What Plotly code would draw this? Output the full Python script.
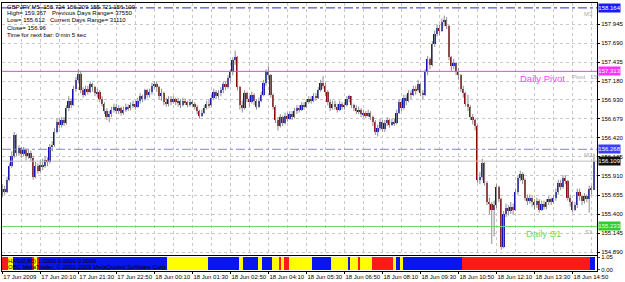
import plotly.graph_objects as go

# ---------------- data ----------------
first_open = 155.66
closes = [155.74,155.70,155.86,156.05,156.18,156.46,156.22,156.28,156.20,156.26,
          156.18,156.22,156.15,155.90,156.05,155.98,156.06,156.04,156.12,156.10,
          156.30,156.32,156.50,156.64,156.60,156.66,156.62,156.82,156.92,156.86,
          157.08,157.20,157.28,157.06,157.00,157.08,157.04,157.14,157.10,157.02,
          157.04,156.94,156.88,156.78,156.70,156.74,156.80,156.84,156.78,156.82,
          156.76,156.80,156.84,156.82,156.86,156.88,156.84,156.92,156.98,156.94,
          157.06,157.00,157.04,157.12,157.14,157.10,156.98,157.02,156.90,156.88,
          156.94,156.90,156.94,156.90,156.92,156.86,156.92,156.90,156.86,156.90,
          156.88,156.84,156.78,156.72,156.76,156.82,156.88,156.86,156.96,157.04,
          156.98,157.02,157.06,157.14,157.10,157.22,157.30,157.46,157.50,157.10,
          156.86,156.82,157.02,156.94,156.90,157.00,156.92,156.84,156.92,157.00,
          157.16,157.30,157.26,157.00,156.84,156.66,156.58,156.70,156.62,156.72,
          156.68,156.74,156.70,156.78,156.82,156.80,156.86,156.84,156.90,156.94,
          156.92,156.98,156.96,157.06,157.16,157.12,157.04,156.90,156.82,156.88,
          156.84,156.80,156.88,156.84,156.86,156.94,156.98,156.86,156.82,156.78,
          156.80,156.74,156.76,156.72,156.76,156.70,156.64,156.50,156.56,156.64,
          156.54,156.62,156.66,156.60,156.64,156.62,156.76,156.90,156.82,156.96,
          156.92,157.02,157.00,157.08,157.06,157.14,157.02,157.00,157.30,157.48,
          157.40,157.68,157.82,157.90,157.86,157.98,158.00,157.92,157.50,157.38,
          157.42,157.30,157.26,157.08,157.02,156.88,156.84,156.70,156.66,156.58,
          155.86,155.90,156.08,155.82,155.56,155.54,155.46,155.52,155.76,155.60,
          154.96,155.40,155.48,155.44,155.50,155.46,155.70,155.88,155.94,155.86,
          155.62,155.58,155.62,155.56,155.52,155.58,155.46,155.54,155.50,155.56,
          155.60,155.56,155.62,155.70,155.82,155.76,155.88,155.84,155.62,155.56,
          155.46,155.52,155.70,155.64,155.58,155.64,155.60,155.74,155.724,156.109]
highs = [155.80,155.78,155.90,156.08,156.24,156.50,156.47,156.32,156.30,156.30,
         156.28,156.27,156.25,156.18,156.10,156.08,156.12,156.14,156.18,156.16,
         156.34,156.38,156.55,156.68,156.68,156.70,156.70,156.86,156.98,156.95,
         157.12,157.24,157.34,157.32,157.10,157.12,157.12,157.18,157.16,157.12,
         157.08,157.06,156.98,156.90,156.82,156.78,156.84,156.88,156.88,156.86,
         156.84,156.84,156.88,156.87,156.90,156.92,156.92,156.96,157.02,157.00,
         157.08,157.08,157.08,157.16,157.18,157.18,157.12,157.08,157.04,156.96,
         156.98,156.98,156.98,156.96,156.96,156.94,156.96,156.95,156.92,156.94,
         156.93,156.90,156.86,156.80,156.80,156.86,156.92,156.94,157.00,157.08,
         157.06,157.06,157.10,157.18,157.18,157.26,157.34,157.50,157.59,157.52,
         157.12,156.92,157.06,157.04,156.98,157.04,157.02,156.94,156.96,157.04,
         157.20,157.34,157.38,157.28,157.02,156.86,156.70,156.74,156.72,156.76,
         156.76,156.78,156.78,156.82,156.86,156.86,156.90,156.90,156.94,156.98,
         156.98,157.02,157.02,157.10,157.20,157.25,157.16,157.06,156.94,156.92,
         156.92,156.88,156.92,156.90,156.90,156.98,157.00,156.98,156.88,156.86,
         156.84,156.82,156.80,156.78,156.80,156.78,156.72,156.66,156.60,156.68,
         156.66,156.66,156.70,156.68,156.68,156.68,156.80,156.94,156.92,157.00,
         157.00,157.06,157.06,157.12,157.12,157.20,157.16,157.06,157.34,157.52,
         157.50,157.72,157.86,157.94,157.94,158.02,158.06,158.04,157.94,157.52,
         157.48,157.44,157.36,157.28,157.12,157.04,157.00,156.86,156.74,156.68,
         156.60,155.96,156.14,156.10,155.84,155.62,155.56,155.58,155.80,155.78,
         155.62,155.44,155.54,155.52,155.56,155.54,155.74,155.92,155.98,155.96,
         155.88,155.66,155.66,155.64,155.60,155.62,155.60,155.58,155.58,155.60,
         155.64,155.62,155.66,155.74,155.86,155.86,155.92,155.92,155.86,155.66,
         155.58,155.56,155.74,155.74,155.66,155.68,155.66,155.78,155.78,156.209]
lows = [155.62,155.66,155.68,155.84,156.02,156.15,156.18,156.18,156.15,156.17,
        156.12,156.14,156.10,155.86,155.88,155.94,155.96,155.99,156.02,156.04,
        156.08,156.24,156.30,156.48,156.55,156.56,156.58,156.60,156.78,156.82,
        156.85,157.04,157.16,157.02,156.96,156.98,157.00,157.02,157.04,156.98,
        156.96,156.90,156.84,156.74,156.66,156.63,156.70,156.76,156.74,156.74,
        156.72,156.73,156.77,156.78,156.79,156.82,156.80,156.82,156.88,156.90,
        156.92,156.96,156.96,157.00,157.08,157.04,156.94,156.92,156.86,156.84,
        156.84,156.86,156.88,156.86,156.84,156.82,156.84,156.86,156.83,156.84,
        156.85,156.80,156.74,156.68,156.70,156.74,156.80,156.82,156.84,156.94,
        156.94,156.95,156.98,157.02,157.06,157.08,157.18,157.26,157.40,157.06,
        156.80,156.76,156.80,156.90,156.84,156.88,156.86,156.80,156.82,156.90,
        156.98,157.12,157.20,156.96,156.80,156.62,156.52,156.56,156.58,156.60,
        156.64,156.66,156.66,156.68,156.74,156.76,156.78,156.80,156.82,156.88,
        156.88,156.90,156.92,156.94,157.04,157.08,156.98,156.86,156.78,156.80,
        156.80,156.76,156.78,156.80,156.80,156.84,156.90,156.82,156.78,156.74,
        156.74,156.70,156.70,156.68,156.70,156.66,156.58,156.46,156.44,156.52,
        156.50,156.50,156.58,156.56,156.58,156.58,156.60,156.74,156.78,156.80,
        156.86,156.90,156.94,156.98,157.00,157.04,156.98,156.94,156.98,157.26,
        157.34,157.38,157.64,157.78,157.80,157.84,157.92,157.88,157.46,157.32,
        157.34,157.26,157.20,157.04,156.96,156.84,156.78,156.66,156.60,156.52,
        155.82,155.80,155.86,155.78,155.52,155.40,155.00,155.10,155.48,155.56,
        154.92,154.94,155.36,155.38,155.40,155.40,155.44,155.66,155.84,155.80,
        155.58,155.52,155.54,155.50,155.46,155.48,155.42,155.44,155.46,155.46,
        155.52,155.52,155.54,155.58,155.66,155.72,155.74,155.80,155.58,155.50,
        155.42,155.44,155.48,155.58,155.52,155.54,155.56,155.42,155.66,155.721]

time_labels = ["17 Jun 2009", "17 Jun 20:10", "17 Jun 21:30", "17 Jun 22:50",
               "18 Jun 00:10", "18 Jun 01:30", "18 Jun 02:50", "18 Jun 04:10",
               "18 Jun 05:30", "18 Jun 06:50", "18 Jun 08:10", "18 Jun 09:30",
               "18 Jun 10:50", "18 Jun 12:10", "18 Jun 13:30", "18 Jun 14:50"]
bars_per_label = 16
bars_per_grid = 8

price_ticks = [157.945, 157.690, 157.435, 157.180, 156.930, 156.679, 156.420,
               156.165, 155.910, 155.655, 155.400, 155.145, 154.890]
price_tick_text = ["157.945", "157.690", "157.435", "157.180", "156.930", "156.679",
                   "156.420", "156.165", "155.910", "155.655", "155.400", "155.145",
                   "154.890"]

level_m3 = 158.164
level_pivot = 157.313
level_m2 = 156.268
level_close = 156.109
level_s1 = 155.233

# indicator state runs: (state, number of bars)
trend_runs = [("R", 3), ("Y", 2), ("B", 8), ("R", 1), ("Y", 1), ("R", 1), ("B", 54),
              ("Y", 17), ("B", 13), ("Y", 2), ("B", 6), ("Y", 2), ("B", 4), ("Y", 3),
              ("R", 1), ("Y", 1), ("R", 2), ("Y", 10), ("B", 8), ("Y", 7), ("B", 1),
              ("Y", 3), ("R", 1), ("Y", 5), ("R", 9), ("Y", 1), ("B", 2), ("Y", 1),
              ("B", 25), ("R", 54), ("B", 2)]

header_lines = ["GBPJPY,M5  155.724 156.209 155.721 156.109",
                "High= 159.367", "Low= 155.612", "Close= 156.96",
                "Time for next bar: 0 min 5 sec"]
range_lines = ["Previous Days Range= 37550", "Current Days Range= 31110"]

# ---------------- derived ----------------
n = len(closes)
idx = list(range(n))
opens = [first_open] + closes[:-1]
body_base = [min(o, c) for o, c in zip(opens, closes)]
body_h = [max(abs(c - o), 0.012) for o, c in zip(opens, closes)]
body_col = ["#1212b4" if c >= o else "#8a0c0c" for o, c in zip(opens, closes)]

state_col = {"R": "#ff1a1a", "Y": "#ffff00", "B": "#0a14f0"}
ind_cols = []
for s, k in trend_runs:
    ind_cols += [state_col[s]] * k

# pixel geometry
W, H = 625, 282
ML, MR, MT, MB = 1, 23, 2, 11
plot_h = H - MT - MB
x_px0, px_per_bar = 1.3, 2.4
x_lo = (ML - x_px0) / px_per_bar
x_hi = (W - MR - x_px0) / px_per_bar

def ypx(p):  # y pixel from top -> paper
    return (H - MB - p) / plot_h

def xp(p):
    return (p - ML) / (W - ML - MR)

# price scale
p_ref, y_ref, ppu = 157.945, 23.3, 74.86
y_top = p_ref + (y_ref - MT) / ppu
y_bot = p_ref - (255 - y_ref) / ppu

fig = go.Figure()

# wicks
fig.add_trace(go.Ohlc(x=idx, open=opens, high=highs, low=lows, close=closes,
                      tickwidth=0, increasing=dict(line=dict(color="#8c8c8c", width=1)),
                      decreasing=dict(line=dict(color="#8c8c8c", width=1)),
                      xaxis="x", yaxis="y", hoverinfo="skip", showlegend=False))
# bodies
fig.add_trace(go.Bar(x=idx, y=body_h, base=body_base, width=0.72,
                     marker=dict(color=body_col, line=dict(width=0)),
                     xaxis="x", yaxis="y", showlegend=False, hoverinfo="skip"))
# indicator panel
fig.add_trace(go.Bar(x=idx, y=[1.05] * n, width=1.0,
                     marker=dict(color=ind_cols, line=dict(width=0)),
                     xaxis="x2", yaxis="y2", showlegend=False, hoverinfo="skip"))

# level lines
def hline(val, color, dash, width=1):
    fig.add_shape(type="line", xref="paper", x0=0, x1=1, yref="y", y0=val, y1=val,
                  line=dict(color=color, width=width, dash=dash), layer="above")

hline(level_m3, "#2a2ad0", "dashdot")
hline(level_pivot, "#ff33ff", "solid")
hline(level_m2, "#7f7ff5", "dashdot")
hline(level_close, "#bdbdbd", "solid")
hline(level_s1, "#66dd66", "solid")

ann = []
FONT = "Liberation Sans"
# right-side price boxes
for val, bg, fg in [(level_m3, "#1a1aff", "white"), (level_pivot, "#ff33ff", "white"),
                    (level_m2, "#3d3dff", "white"), (level_close, "#101010", "white"),
                    (level_s1, "#33cc33", "#eaffea")]:
    ann.append(dict(xref="paper", x=1, xanchor="left", xshift=1, yref="y", y=val,
                    yanchor="middle", text=f"{val:.3f}", showarrow=False,
                    bgcolor=bg, width=21, height=8, borderpad=0,
                    font=dict(family=FONT, size=6, color=fg)))

# tiny gray level names
for val, txt in [(level_m3, "M3"), (level_m2, "M2"), (level_s1, "S1")]:
    ann.append(dict(xref="paper", x=1, xanchor="right", xshift=-2, yref="y", y=val,
                    yanchor="top", yshift=-1, text=txt, showarrow=False,
                    font=dict(family=FONT, size=6, color="#a8a8a8")))
ann.append(dict(xref="paper", x=xp(575), xanchor="left", yref="y", y=level_pivot,
                yanchor="top", yshift=-1, text="Pivot   157", showarrow=False,
                font=dict(family=FONT, size=6, color="#a8a8a8")))

ann.append(dict(xref="paper", x=xp(572), xanchor="right", yref="y", y=level_pivot,
                yanchor="top", yshift=0, text="Daily Pivot", showarrow=False,
                font=dict(family=FONT, size=9.5, color="#ff44ff")))
ann.append(dict(xref="paper", x=xp(548), xanchor="center", yref="y", y=level_s1,
                yanchor="top", yshift=0, text="Daily S1", showarrow=False,
                font=dict(family=FONT, size=9.5, color="#66dd66")))

# header
for line, yy in zip(header_lines, [5.7, 12.3, 19.3, 26.7, 33.7]):
    ann.append(dict(xref="paper", x=xp(4), xanchor="left", yref="paper", y=ypx(yy),
                    yanchor="middle", text=line, showarrow=False,
                    font=dict(family=FONT, size=6, color="black")))
for line, yy, xx in zip(range_lines, [12.3, 19.3], [49.3, 47.7]):
    ann.append(dict(xref="paper", x=xp(xx), xanchor="left", yref="paper", y=ypx(yy),
                    yanchor="middle", text=line, showarrow=False,
                    font=dict(family=FONT, size=6, color="black")))

# indicator overlay text
ann.append(dict(xref="paper", x=xp(5), xanchor="left", yref="paper", y=ypx(260.5),
                yanchor="middle", text="HAS(0,80) 1.0000 0.0000 0.0000", showarrow=False,
                font=dict(family=FONT, size=6, color="black")))
ann.append(dict(xref="paper", x=xp(5), xanchor="left", yref="paper", y=ypx(266.5),
                yanchor="middle", text="OBC MetaTrader, © 2001-2009 MetaQuotes Software Corp.",
                showarrow=False, font=dict(family=FONT, size=6, color="black")))

tick_bars = [i * bars_per_label for i in range(len(time_labels))]
grid_bars = list(range(0, n + 1, bars_per_grid))

fig.update_layout(
    width=W, height=H, margin=dict(l=ML, r=MR, t=MT, b=MB),
    paper_bgcolor="white", plot_bgcolor="white", barmode="overlay", bargap=0,
    showlegend=False, annotations=ann,
    xaxis=dict(domain=[0, 1], range=[x_lo, x_hi], anchor="y", showticklabels=False,
               tickvals=grid_bars, showgrid=True, gridcolor="#c8c8c8", griddash="dot",
               gridwidth=1, zeroline=False, showline=True, linecolor="black", mirror=True,
               rangeslider=dict(visible=False), ticks=""),
    yaxis=dict(domain=[ypx(255), 1], range=[y_bot, y_top], side="right",
               tickvals=price_ticks, ticktext=price_tick_text, ticks="outside", ticklen=2,
               tickcolor="black", tickfont=dict(family=FONT, size=6, color="black"),
               showgrid=True, gridcolor="#c8c8c8", griddash="dot", zeroline=False,
               showline=True, linecolor="black", mirror=True, anchor="x"),
    xaxis2=dict(domain=[0, 1], range=[x_lo, x_hi], anchor="y2", tickvals=tick_bars,
                ticktext=time_labels, ticklabelposition="outside right", tickangle=0,
                ticks="outside", ticklen=2, tickcolor="black",
                tickfont=dict(family=FONT, size=6, color="black"),
                showgrid=False, zeroline=False, showline=True, linecolor="black", mirror=True),
    yaxis2=dict(domain=[0, ypx(256)], range=[-0.1, 1.15], side="right",
                tickvals=[1.05, 0.0], ticktext=["1.05", "0.00"], ticks="outside", ticklen=2,
                tickfont=dict(family=FONT, size=6, color="black"), showgrid=False,
                zeroline=False, showline=True, linecolor="black", mirror=True, anchor="x2"),
)

fig.write_html("out.html")
